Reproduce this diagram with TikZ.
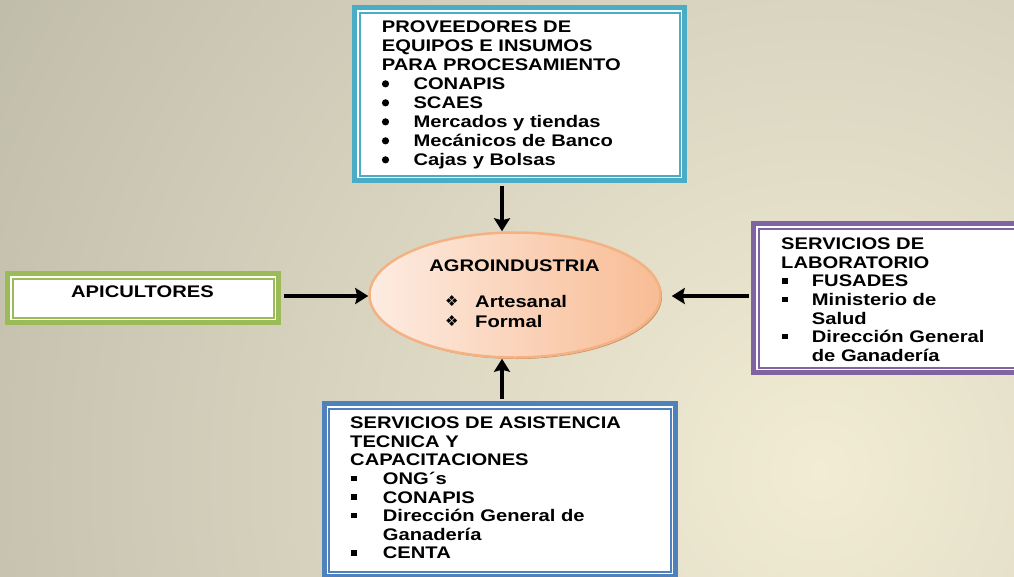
\documentclass[tikz,border=0pt]{standalone}
\usepackage{fontspec}
\setmainfont{Liberation Sans}[FakeStretch=1.2]
\newfontfamily\simbolos{DejaVu Sans}
\usetikzlibrary{shapes.geometric,arrows.meta,shadows}

% colores
\definecolor{fondoA}{RGB}{242,236,212}
\definecolor{fondoB}{RGB}{148,146,134}
\definecolor{turquesa}{RGB}{75,172,198}
\definecolor{verde}{RGB}{155,187,89}
\definecolor{morado}{RGB}{128,100,162}
\definecolor{azul}{RGB}{79,129,189}
\definecolor{durazno}{RGB}{248,188,148}
\definecolor{duraznoclaro}{RGB}{253,236,226}
\definecolor{borde}{RGB}{244,177,131}
\definecolor{sombra}{RGB}{190,140,100}

% vinetas
\newcommand{\bala}{\makebox[31.6pt][l]{\tikz[baseline=0pt]\fill (3.6pt,5.8pt) circle (3.6pt);}}
\newcommand{\cuadro}[1]{\makebox[#1][l]{\hspace{1pt}\raisebox{3.3pt}{\rule{5.8pt}{5.4pt}}}}
\newcommand{\rombo}{\makebox[30pt][l]{\raisebox{0.5pt}{\simbolos\fontsize{15}{15}\selectfont ❖}}}

\tikzset{
  marco/.style={draw=#1, line width=5pt, fill=white, inner sep=0pt,
    path picture={\draw[#1, line width=2pt]
      ([shift={(5pt,-5pt)}]path picture bounding box.north west) rectangle
      ([shift={(-5pt,5pt)}]path picture bounding box.south east);}},
  texto/.style={anchor=north west, inner sep=0pt, align=left,
    font=\fontsize{16.8}{#1}\selectfont\bfseries},
  texto/.default=18.6,
  elipse/.style={ellipse, draw=borde, line width=2.5pt, inner sep=0pt,
    left color=duraznoclaro, right color=durazno,
    drop shadow={shadow xshift=1.5pt, shadow yshift=-1.5pt, fill=sombra, opacity=1}},
  flecha/.style={line width=4pt, shorten <=2.5pt,
    -{Stealth[length=13pt,width=16pt,inset=2pt]}},
}

\begin{document}
\begin{tikzpicture}[x=1pt, y=-1pt]
    % Fondo
    \useasboundingbox (0,0) rectangle (1014,576);
    \begin{scope}
      \clip (0,0) rectangle (1014,576);
      \shade[inner color=fondoA, outer color=fondoB] (820,470) circle (1800pt);
    \end{scope}

    % Cajas
    \node[marco=turquesa, minimum width=330pt, minimum height=173pt] (prov) at (519.5,94) {};
    \node[marco=verde, minimum width=271pt, minimum height=49pt] (apic) at (143,298) {};
    \node[marco=morado, minimum width=274pt, minimum height=149pt] (lab) at (890.5,298) {};
    \node[marco=azul, minimum width=351.5pt, minimum height=173pt] (asis) at (499.75,490) {};

    % Elipse central
    \node[elipse, minimum width=291pt, minimum height=125pt] (agro) at (515,295) {};

    % Textos
    \node[texto=19] (provtxt) at (381.7,20.7) {PROVEEDORES DE\\EQUIPOS E INSUMOS\\PARA PROCESAMIENTO\\
      \bala CONAPIS\\\bala SCAES\\\bala Mercados y tiendas\\\bala Mecánicos de Banco\\\bala Cajas y Bolsas};
    \node[texto, anchor=north] (apitxt) at (142.5,286) {APICULTORES};
    \node[texto=20] (agrotxt) at (445,295) {\rombo Artesanal\\\rombo Formal};
    \node[texto, anchor=north] (agrotit) at (514.5,259.3) {AGROINDUSTRIA};
    \node[texto] (labtxt) at (781,237.7) {SERVICIOS DE\\LABORATORIO\\
      \cuadro{30.7pt}FUSADES\\\cuadro{30.7pt}Ministerio de\\\hspace*{30.7pt}Salud\\
      \cuadro{30.7pt}Dirección General\\\hspace*{30.7pt}de Ganadería};
    \node[texto] (asistxt) at (350,416.7) {SERVICIOS DE ASISTENCIA\\TECNICA Y\\CAPACITACIONES\\
      \cuadro{32.7pt}ONG´s\\\cuadro{32.7pt}CONAPIS\\\cuadro{32.7pt}Dirección General de\\
      \hspace*{32.7pt}Ganadería\\\cuadro{32.7pt}CENTA};

    % Flechas
    \coordinate (ejeV) at (502,0);
    \coordinate (ejeH) at (0,296);
    \draw[flecha] (prov.south -| ejeV) -- (agro.north -| ejeV);
    \draw[flecha] (asis.north -| ejeV) -- (agro.south -| ejeV);
    \draw[flecha] (apic.east |- ejeH) -- (agro.west |- ejeH);
    \draw[flecha, shorten >=10pt] (lab.west |- ejeH) -- (agro.east |- ejeH);

\end{tikzpicture}
\end{document}
